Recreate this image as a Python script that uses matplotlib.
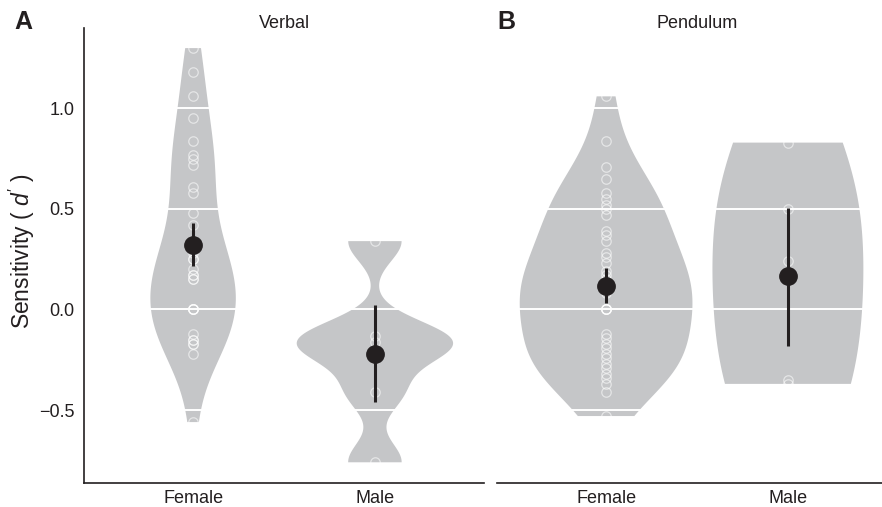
import numpy as np
import matplotlib
matplotlib.use("Agg")
import matplotlib.pyplot as plt

# ---------------- data ----------------
groups = ["Female", "Male"]
panel_titles = ["Verbal", "Pendulum"]
panel_letters = ["A", "B"]
yticks = [-0.5, 0.0, 0.5, 1.0]
ytick_labels = ["\u22120.5", "0.0", "0.5", "1.0"]

verbal_female = [1.30, 1.18, 1.06, 0.95, 0.84, 0.77, 0.75, 0.72, 0.61,
                 0.58, 0.48, 0.42, 0.28, 0.25, 0.25, 0.20, 0.17, 0.17, 0.15,
                 0.15, 0.0, 0.0, 0.0, 0.0, 0.0, -0.12, -0.15, -0.15,
                 -0.17, -0.17, -0.22, -0.56]
verbal_male = [0.34, -0.13, -0.16, -0.20, -0.41, -0.76]
pendulum_female = [1.06, 0.84, 0.71, 0.65, 0.58, 0.55, 0.52, 0.50, 0.47, 0.39,
                   0.37, 0.34, 0.28, 0.26, 0.23, 0.19, 0.17, 0.15, 0.12, 0.10,
                   0.08, 0.0, 0.0, 0.0, 0.0, 0.0,
                   -0.12, -0.14, -0.17, -0.19, -0.22, -0.24, -0.27, -0.29,
                   -0.32, -0.34, -0.37, -0.41, -0.53]
pendulum_male = [0.83, 0.50, 0.24, -0.35, -0.37]

verbal_mean = [0.32, -0.22]
verbal_lower = [0.215, -0.46]
verbal_upper = [0.43, 0.02]
pendulum_mean = [0.115, 0.165]
pendulum_lower = [0.03, -0.18]
pendulum_upper = [0.205, 0.505]

# ---------------- style ----------------
plt.rcParams["font.family"] = ["Liberation Sans", "DejaVu Sans"]
plt.rcParams["mathtext.fontset"] = "custom"
plt.rcParams["mathtext.rm"] = "Liberation Sans"
plt.rcParams["mathtext.it"] = "Liberation Sans:italic"

VIOLIN = "#c5c6c8"
DARK = "#231f20"
W, H = 882, 507


def make_bw(h):
    def bw(kde):
        x = np.asarray(kde.dataset).ravel()
        return h / np.std(x, ddof=1)
    return bw


fig = plt.figure(figsize=(W / 100, H / 100), dpi=100)

ax_bottom = (H - 483) / H
ax_height = (483 - 28) / H
axA = fig.add_axes([84 / W, ax_bottom, 400 / W, ax_height])
axB = fig.add_axes([497 / W, ax_bottom, 400 / W, ax_height])

panels = [
    (axA, [verbal_female, verbal_male], verbal_mean, verbal_lower, verbal_upper,
     [0.47, 0.86], [0.20, 0.10]),
    (axB, [pendulum_female, pendulum_male], pendulum_mean, pendulum_lower, pendulum_upper,
     [0.95, 0.83], [0.17, 0.45]),
]

positions = [1, 2]
for i, (ax, data, mean, lower, upper, widths, bws) in enumerate(panels):
    for p, d, w, h in zip(positions, data, widths, bws):
        vp = ax.violinplot([d], positions=[p], widths=[w], showextrema=False,
                           bw_method=make_bw(h), points=400)
        for body in vp["bodies"]:
            body.set_facecolor(VIOLIN)
            body.set_edgecolor("none")
            body.set_alpha(1)
            body.set_zorder(1)
    for yv in yticks:
        ax.axhline(yv, color="white", lw=1.4, zorder=2)
    for p, d in zip(positions, data):
        ax.plot([p] * len(d), d, linestyle="none", marker="o", ms=6.8,
                mfc="none", mec=(1, 1, 1, 0.55), mew=0.9, zorder=3)
    for p, m, lo, up in zip(positions, mean, lower, upper):
        ax.plot([p, p], [lo, up], color=DARK, lw=2.2, solid_capstyle="butt", zorder=4)
        ax.plot([p], [m], marker="o", ms=12.5, color=DARK, zorder=5)

    ax.set_xlim(0.4, 2.6)
    ax.set_ylim(-0.863, 1.40)
    ax.set_xticks(positions)
    ax.set_xticklabels(groups, fontsize=13, color=DARK)
    ax.tick_params(axis="both", length=0, pad=5)
    for s in ["top", "right"]:
        ax.spines[s].set_visible(False)
    ax.spines["bottom"].set_linewidth(1.2)
    ax.spines["bottom"].set_color(DARK)
    ax.spines["left"].set_linewidth(1.2)
    ax.spines["left"].set_color(DARK)
    ax.set_facecolor("none")

axA.set_yticks(yticks)
axA.set_yticklabels(ytick_labels, fontsize=13, color=DARK)
axA.tick_params(axis="y", pad=7)
axB.spines["left"].set_visible(False)
axB.set_yticks([])

# y label, titles & panel letters
fig.text(22 / W, 1 - 251 / H, r"Sensitivity ( $\mathit{d'}$ )", rotation=90,
         ha="center", va="center", fontsize=16.5, color=DARK)
fig.text(284 / W, 1 - 23 / H, panel_titles[0], ha="center", va="center", fontsize=13, color=DARK)
fig.text(697 / W, 1 - 23 / H, panel_titles[1], ha="center", va="center", fontsize=13, color=DARK)
fig.text(23 / W, 1 - 22 / H, panel_letters[0], ha="center", va="center", fontsize=18, fontweight="bold", color=DARK)
fig.text(506 / W, 1 - 22 / H, panel_letters[1], ha="center", va="center", fontsize=18, fontweight="bold", color=DARK)

fig.savefig("out.png", dpi=100)
